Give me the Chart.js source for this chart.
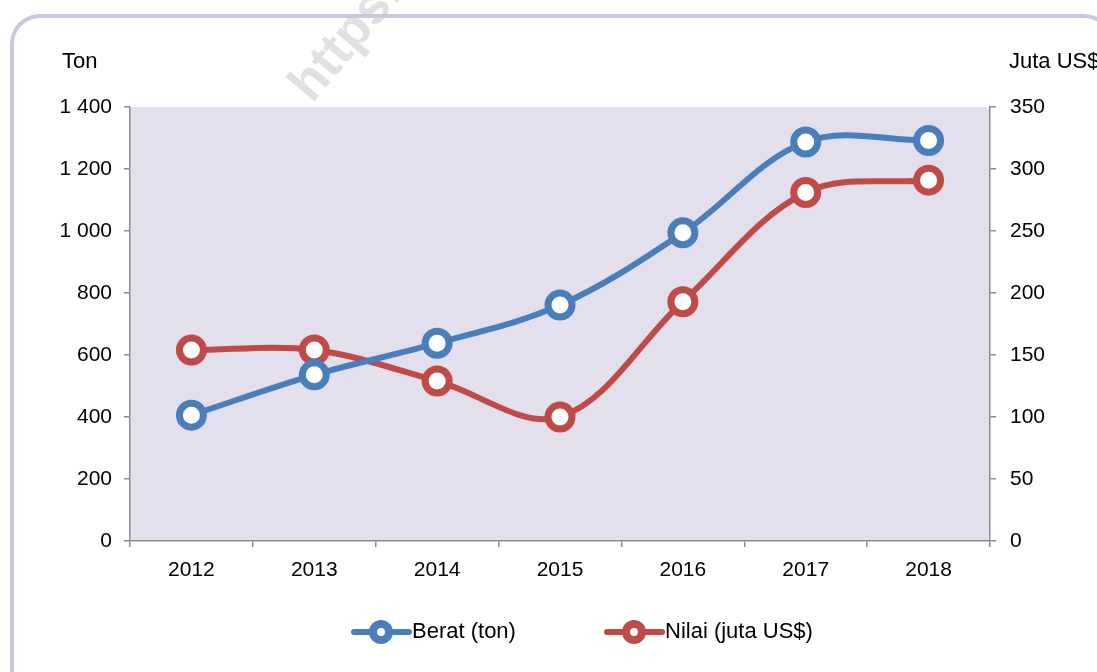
<!DOCTYPE html>
<html>
<head>
<meta charset="utf-8">
<script src="https://cdn.jsdelivr.net/npm/chart.js@4.4.0/dist/chart.umd.min.js"></script>
<style>
  html, body { margin: 0; padding: 0; background: #fff; }
  #wrap { width: 1097px; height: 672px; position: relative; }
</style>
</head>
<body>
<div id="wrap"><canvas id="grafik"></canvas></div>
<script>
// Data
const tahun = ['2012', '2013', '2014', '2015', '2016', '2017', '2018'];
const berat = [406, 536, 638, 761, 994, 1287, 1292];
const nilai = [154, 154, 129, 100, 193, 281, 291];
const tickTon = [0, 200, 400, 600, 800, 1000, 1200, 1400];
const tickUsd = [0, 50, 100, 150, 200, 250, 300, 350];

const FONT = "'Liberation Sans', Arial, sans-serif";
const BIRU = '#4a7ebb';
const MERAH = '#be4b48';
const ABU = '#8c8c8c';

// format ribuan pakai spasi
function formatAngka(v) {
    return String(v).replace(/\B(?=(\d{3})+(?!\d))/g, ' ');
}

// bingkai, latar area plot, judul sumbu, watermark dan legenda
const dekorasi = {
    id: 'dekorasi',
    beforeDraw(chart) {
        const ctx = chart.ctx;
        const a = chart.chartArea;
        ctx.save();
        // bingkai luar
        ctx.strokeStyle = '#cdc5de';
        ctx.lineWidth = 4;
        ctx.beginPath();
        ctx.roundRect(12, 16, 1100, 680, 28);
        ctx.stroke();
        // latar plot
        ctx.fillStyle = '#e4dfec';
        ctx.fillRect(a.left, a.top, a.right - a.left, a.bottom - a.top);
        // watermark
        ctx.translate(312, 104);
        ctx.rotate(-Math.PI / 3.6);
        ctx.fillStyle = 'rgba(200,200,200,0.55)';
        ctx.font = 'bold 52px ' + FONT;
        ctx.fillText('https://', 0, 0);
        ctx.restore();
    },
    afterDraw(chart) {
        const ctx = chart.ctx;
        ctx.save();
        ctx.fillStyle = '#000';
        ctx.font = '22px ' + FONT;
        ctx.textBaseline = 'middle';
        ctx.textAlign = 'left';
        ctx.fillText('Ton', 62, 62);
        ctx.fillText('Juta US$', 1009, 62);
        // legenda
        const item = [
            { x: 354, teks: chart.data.datasets[0].label, warna: BIRU },
            { x: 607, teks: chart.data.datasets[1].label, warna: MERAH }
        ];
        const y = 632;
        item.forEach(it => {
            ctx.strokeStyle = it.warna;
            ctx.lineWidth = 6;
            ctx.lineCap = 'round';
            ctx.beginPath();
            ctx.moveTo(it.x, y);
            ctx.lineTo(it.x + 55, y);
            ctx.stroke();
            ctx.beginPath();
            ctx.arc(it.x + 27, y, 8, 0, Math.PI * 2);
            ctx.fillStyle = '#fff';
            ctx.fill();
            ctx.lineWidth = 8;
            ctx.stroke();
            ctx.fillStyle = '#000';
            ctx.fillText(it.teks, it.x + 58, y);
        });
        ctx.restore();
    }
};

function garisSeri(label, data, warna, sumbu) {
    return {
        label: label,
        data: data,
        yAxisID: sumbu,
        borderColor: warna,
        borderWidth: 6,
        backgroundColor: '#fff',
        pointBackgroundColor: '#fff',
        pointBorderColor: warna,
        pointBorderWidth: 7,
        pointRadius: 12,
        pointHoverRadius: 12,
        tension: 0.35,
        fill: false
    };
}

document.addEventListener('DOMContentLoaded', function() {
    const el = document.getElementById('grafik');
    new Chart(el, {
        type: 'line',
        data: {
            labels: tahun,
            datasets: [
                garisSeri('Berat (ton)', berat, BIRU, 'yTon'),
                garisSeri('Nilai (juta US$)', nilai, MERAH, 'yUsd')
            ]
        },
        options: {
            responsive: true,
            maintainAspectRatio: false,
            animation: false,
            layout: { padding: { top: 107, bottom: 70, left: 0, right: 0 } },
            plugins: {
                legend: { display: false },
                tooltip: { enabled: false }
            },
            scales: {
                x: {
                    offset: true,
                    border: { color: ABU, width: 1.5 },
                    grid: { offset: true, drawOnChartArea: false, tickLength: 6, color: ABU, lineWidth: 1.5 },
                    ticks: { color: '#000', font: { family: FONT, size: 21 }, padding: 11 },
                    afterFit(s) { s.height = 61; }
                },
                yTon: {
                    position: 'left',
                    min: 0, max: 1400,
                    afterBuildTicks(s) { s.ticks = tickTon.map(v => ({ value: v })); },
                    border: { color: ABU, width: 1.5 },
                    grid: { drawOnChartArea: false, tickLength: 6, color: ABU, lineWidth: 1.5 },
                    ticks: { color: '#000', font: { family: FONT, size: 21 }, padding: 12,
                        callback: v => formatAngka(v) },
                    afterFit(s) { s.width = 130; }
                },
                yUsd: {
                    position: 'right',
                    min: 0, max: 350,
                    afterBuildTicks(s) { s.ticks = tickUsd.map(v => ({ value: v })); },
                    border: { color: ABU, width: 1.5 },
                    grid: { drawOnChartArea: false, tickLength: 6, color: ABU, lineWidth: 1.5 },
                    ticks: { color: '#000', font: { family: FONT, size: 21 }, padding: 14,
                        callback: v => formatAngka(v) },
                    afterFit(s) { s.width = 107; }
                }
            }
        },
        plugins: [dekorasi]
    });
});
</script>
</body>
</html>
